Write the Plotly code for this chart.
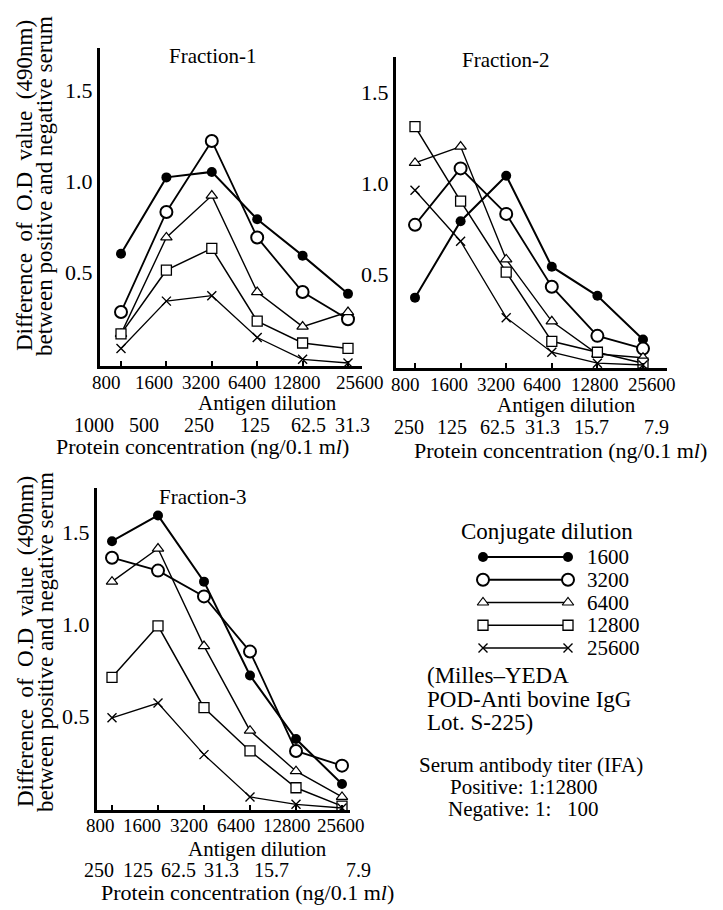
import plotly.graph_objects as go

W, H = 723, 910
FONT = "Liberation Serif"

# ---------------- data ----------------
antigen_dilution = ["800", "1600", "3200", "6400", "12800", "25600"]
conjugate_dilution = ["1600", "3200", "6400", "12800", "25600"]

protein_f1 = ["1000", "500", "250", "125", "62.5", "31.3"]
protein_f2 = ["250", "125", "62.5", "31.3", "15.7", "7.9"]
protein_f3 = ["250", "125", "62.5", "31.3", "15.7", "7.9"]

# Fraction-1
f1_1600 = [0.60, 1.02, 1.05, 0.79, 0.59, 0.38]
f1_3200 = [0.28, 0.83, 1.22, 0.69, 0.39, 0.24]
f1_6400 = [0.16, 0.69, 0.92, 0.39, 0.20, 0.28]
f1_12800 = [0.16, 0.51, 0.63, 0.23, 0.11, 0.08]
f1_25600 = [0.08, 0.34, 0.37, 0.14, 0.02, 0.00]

# Fraction-2
f2_1600 = [0.37, 0.79, 1.04, 0.54, 0.38, 0.14]
f2_3200 = [0.77, 1.08, 0.83, 0.43, 0.16, 0.09]
f2_6400 = [1.11, 1.20, 0.58, 0.24, 0.06, 0.04]
f2_12800 = [1.31, 0.90, 0.51, 0.13, 0.07, 0.01]
f2_25600 = [0.96, 0.68, 0.26, 0.07, 0.01, 0.00]

# Fraction-3
f3_1600 = [1.45, 1.59, 1.23, 0.72, 0.375, 0.13]
f3_3200 = [1.36, 1.29, 1.15, 0.85, 0.31, 0.23]
f3_6400 = [1.23, 1.41, 0.88, 0.42, 0.20, 0.06]
f3_12800 = [0.71, 0.99, 0.545, 0.31, 0.11, 0.01]
f3_25600 = [0.49, 0.57, 0.29, 0.06, 0.02, 0.00]

y_ticks = [0.5, 1.0, 1.5]
y_ticktext = ["0.5", "1.0", "1.5"]

fractions = [
    [f1_1600, f1_3200, f1_6400, f1_12800, f1_25600],
    [f2_1600, f2_3200, f2_6400, f2_12800, f2_25600],
    [f3_1600, f3_3200, f3_6400, f3_12800, f3_25600],
]
protein_labels = [protein_f1, protein_f2, protein_f3]

# ---------------- styles ----------------
styles = [
    dict(symbol="circle", size=10, color="black", lw=0, line_w=2.0),
    dict(symbol="circle", size=12, color="white", lw=2.0, line_w=1.8),
    dict(symbol="triangle-up", size=10, color="white", lw=1.2, line_w=1.4),
    dict(symbol="square", size=10, color="white", lw=1.3, line_w=1.5),
    dict(symbol="x-thin", size=9, color="black", lw=1.4, line_w=1.3),
]


def marker_for(st):
    if st["symbol"] == "x-thin":
        return dict(symbol="x-thin", size=st["size"],
                    line=dict(color="black", width=st["lw"]))
    return dict(symbol=st["symbol"], size=st["size"], color=st["color"],
                line=dict(color="black", width=st["lw"]))


def px_x(p):
    return p / W


def px_y(p):
    return 1 - p / H


# panel geometry in pixels: axis box, and pixel of first category + step
panels = [
    dict(xd=(100, 362), yd=(48, 366), x0=121, step=45.4, yr=(-0.0165, 1.731)),
    dict(xd=(396, 667), yd=(57, 368), x0=415, step=45.6, yr=(-0.0165, 1.692)),
    dict(xd=(97, 350), yd=(488, 810), x0=112, step=46.0, yr=(-0.011, 1.739)),
]

fig = go.Figure()

for p_i, (pan, series) in enumerate(zip(panels, fractions)):
    sfx = "" if p_i == 0 else str(p_i + 1)
    for s_i, vals in enumerate(series):
        st = styles[s_i]
        fig.add_trace(go.Scatter(
            x=antigen_dilution, y=vals, mode="lines+markers",
            line=dict(color="black", width=st["line_w"]),
            marker=marker_for(st), showlegend=False,
            xaxis="x" + sfx, yaxis="y" + sfx, cliponaxis=False,
        ))

axis_common_x = dict(type="category", showline=True, linewidth=3, linecolor="black",
                     ticks="inside", ticklen=5, tickwidth=1.5, tickcolor="black",
                     showgrid=False, zeroline=False, showticklabels=False,
                     automargin=False)
axis_common_y = dict(showline=True, linewidth=3, linecolor="black",
                     tickvals=y_ticks, ticktext=y_ticktext, ticks="",
                     showgrid=False, zeroline=False, automargin=False,
                     tickfont=dict(family=FONT, size=22, color="black"))

layout_axes = {}
for p_i, pan in enumerate(panels):
    sfx = "" if p_i == 0 else str(p_i + 1)
    xr = [(pan["xd"][0] - pan["x0"]) / pan["step"], (pan["xd"][1] - pan["x0"]) / pan["step"]]
    layout_axes["xaxis" + sfx] = dict(
        axis_common_x, domain=[px_x(pan["xd"][0]), px_x(pan["xd"][1])],
        range=xr, anchor="y" + sfx)
    layout_axes["yaxis" + sfx] = dict(
        axis_common_y, domain=[px_y(pan["yd"][1]), px_y(pan["yd"][0])],
        range=list(pan["yr"]), anchor="x" + sfx)

# ---------------- legend drawn on a hidden axis ----------------
for s_i, name in enumerate(conjugate_dilution):
    st = styles[s_i]
    fig.add_trace(go.Scatter(
        x=[0, 1], y=[s_i, s_i], mode="lines+markers",
        line=dict(color="black", width=st["line_w"]), marker=marker_for(st),
        showlegend=False, xaxis="x4", yaxis="y4", cliponaxis=False))

LEG_TOP, LEG_STEP = 557, 22.75
layout_axes["xaxis4"] = dict(domain=[px_x(483), px_x(568)], range=[0, 1], visible=False,
                             anchor="y4")
layout_axes["yaxis4"] = dict(domain=[px_y(LEG_TOP + 4.5 * LEG_STEP), px_y(LEG_TOP - 0.5 * LEG_STEP)],
                             range=[4.5, -0.5], visible=False, anchor="x4")

fig.update_layout(**layout_axes)

# ---------------- annotations ----------------
ann = []


def text(t, x, y, size=22, xanchor="center", angle=0):
    ann.append(dict(text=t, x=px_x(x), y=px_y(y), xref="paper", yref="paper",
                    showarrow=False, xanchor=xanchor, yanchor="middle",
                    textangle=angle,
                    font=dict(family=FONT, size=size, color="black")))


WS = " \u00a0"
ytitle1 = "Difference of O.D value (490nm)".replace(" ", WS)
ytitle2 = "between positive and negative serum"
for yc in (186, 642):
    text(ytitle1, 25, yc, size=23, angle=-90)
    text(ytitle2, 45, yc, size=23, angle=-90)

text("Fraction-1", 212, 56, size=21)
text("Fraction-2", 506, 60, size=21)
text("Fraction-3", 202, 497, size=21)

# antigen-dilution tick labels (positions in category-index units, as printed)
dil_pos = [
    [-0.33, 0.73, 1.76, 2.78, 3.88, 5.26],
    [-0.20, 0.75, 1.78, 2.79, 3.95, 5.20],
    [-0.26, 0.65, 1.67, 2.70, 3.80, 4.98],
]
dil_y = [382, 384, 825]
for p_i, pan in enumerate(panels):
    for lab, pos in zip(antigen_dilution, dil_pos[p_i]):
        text(lab, pan["x0"] + pan["step"] * pos, dil_y[p_i], size=19)

text("Antigen dilution", 267, 403, size=21)
text("Antigen dilution", 566, 405, size=21)
text("Antigen dilution", 257, 849, size=21)

pc = "Protein concentration (ng/0.1 m<i>l</i>)"
text(pc, 202, 446, size=22)
text(pc, 560, 450, size=22)
text(pc, 247, 892, size=22)

# protein-concentration value rows (positions in category-index units)
prot_pos = [
    [-0.59, 0.51, 1.72, 2.95, 4.14, 5.09],
    [-0.13, 0.81, 1.80, 2.79, 3.88, 5.29],
    [-0.28, 0.56, 1.45, 2.39, 3.46, 5.35],
]
prot_y = [425, 427, 870]
for p_i, pan in enumerate(panels):
    for lab, pos in zip(protein_labels[p_i], prot_pos[p_i]):
        text(lab, pan["x0"] + pan["step"] * pos, prot_y[p_i], size=20)

# legend texts
text("Conjugate dilution", 547, 531, size=23)
for s_i, name in enumerate(conjugate_dilution):
    text(name, 585, LEG_TOP + LEG_STEP * s_i, size=21, xanchor="left")

text("(Milles\u2013YEDA", 425, 675, size=23, xanchor="left")
text("POD-Anti bovine IgG", 425, 699, size=23, xanchor="left")
text("Lot. S-225)", 425, 722, size=23, xanchor="left")

text("Serum antibody titer (IFA)", 531, 765, size=21)
text("Positive: 1:12800", 600, 787, size=21, xanchor="right")
text("Negative: 1:\u00a0\u00a0\u00a0100", 600, 809, size=21, xanchor="right")

fig.update_layout(
    width=W, height=H, autosize=False, margin=dict(l=0, r=0, t=0, b=0),
    paper_bgcolor="white", plot_bgcolor="white",
    showlegend=False, annotations=ann,
    font=dict(family=FONT, color="black"),
)

fig.write_html(
    "out.html",
    config={"responsive": False, "displayModeBar": False},
    post_script="document.body.style.margin='0px';document.body.style.overflow='hidden';",
)
